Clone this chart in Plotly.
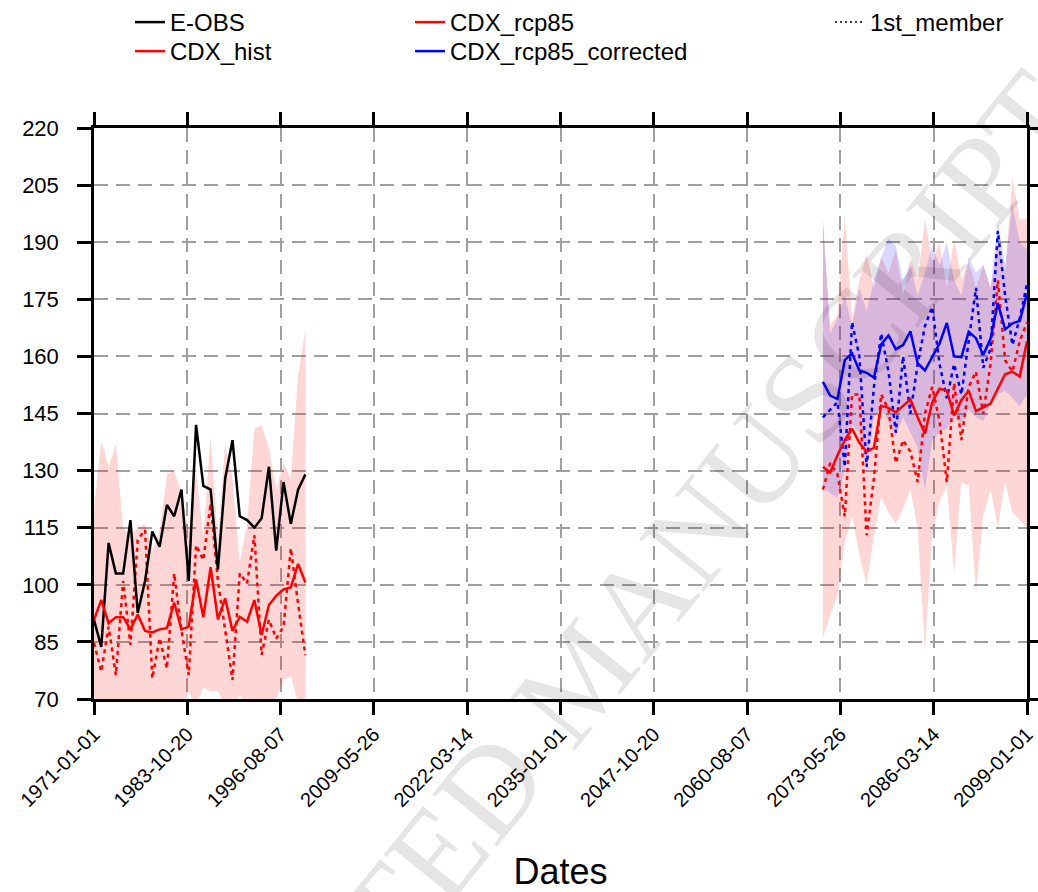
import plotly.graph_objects as go

# ---------------- data ----------------
hist_years = [1971, 1972, 1973, 1974, 1975, 1976, 1977, 1978, 1979, 1980,
              1981, 1982, 1983, 1984, 1985, 1986, 1987, 1988, 1989, 1990,
              1991, 1992, 1993, 1994, 1995, 1996, 1997, 1998, 1999, 2000]
fut_years = [2071, 2072, 2073, 2074, 2075, 2076, 2077, 2078, 2079, 2080,
             2081, 2082, 2083, 2084, 2085, 2086, 2087, 2088, 2089, 2090,
             2091, 2092, 2093, 2094, 2095, 2096, 2097, 2098, 2099]

eobs = [90.8, 83.7, 111, 103, 103, 117, 92.6, 101, 114, 110,
        121, 118, 125, 101, 142, 126, 125, 104, 128, 138,
        118, 117, 115, 117.5, 131, 109, 127, 116, 125, 129]
cdx_hist = [90.8, 96.0, 89.9, 91.5, 91.5, 88.3, 92.2, 87.9, 87.5, 88.3,
            88.6, 95.3, 88.3, 89.0, 101.4, 91.5, 104.6, 90.9, 96.4, 87.9,
            91.6, 90.3, 96.0, 86.8, 94.7, 97.1, 98.8, 99.3, 105.5, 100.6]
cdx_hist_member = [84.7, 77.2, 89, 76.3, 101, 84.2, 111.8, 114.4, 75.4, 86,
                   78, 103, 88, 76.3, 110.4, 106.5, 121.4, 101, 88, 75,
                   103, 100.4, 113, 81.6, 90.8, 85.9, 89, 109.6, 95, 81.5]
cdx_hist_max = [120, 138, 131, 137, 115, 113, 115, 116, 109, 114,
                129, 130, 124, 114, 130, 113, 139, 112, 137, 128,
                106, 116, 141, 142, 136, 125, 132, 128, 155, 167]
cdx_hist_min = [67, 67, 67, 67, 67, 67, 67, 67, 67, 67,
                67, 67, 67, 72, 68, 73, 72, 72, 68, 68,
                71, 68, 68, 68, 68, 70, 75, 76, 69, 67]

rcp85 = [131, 129.5, 134, 138, 141, 137.3, 135, 136, 147, 146.5,
         145.3, 147, 148.7, 144, 139.7, 148, 151.5, 151, 144.5, 148.5,
         151, 145.6, 146.5, 147.6, 151.5, 155.3, 156, 154.7, 164]
rcp85_member = [125, 132, 129, 118, 150, 150, 113, 128, 150, 146,
                132, 138, 135, 127, 145, 152, 143, 127, 153, 138,
                152, 156, 145, 158, 180, 159, 156, 164, 169]
rcp85_max = [196, 168, 171, 197, 170, 180, 187, 178, 186, 182,
             188, 176, 186, 180, 196, 185, 190, 178, 191, 180,
             185, 178, 184, 178, 190, 182, 207, 196, 196]
rcp85_min = [86, 92, 97, 111, 118, 108, 100, 113, 123, 119,
             116, 120, 125, 115, 83, 113, 122, 126, 103, 127,
             126, 98, 118, 125, 115, 127, 119, 117, 115]

corr = [153.3, 149.7, 148.8, 159, 160.8, 156.3, 155.7, 154.4, 163.2, 165.5,
        161.9, 163, 166.6, 158.2, 156.3, 160, 163.4, 168.8, 160, 159.8,
        166.5, 164.8, 160.4, 164.7, 174, 167.1, 168.7, 169.3, 176.5]
corr_member = [144, 146, 148, 131, 169, 160, 131, 152, 166, 156,
               140, 160, 145, 158, 168, 173, 158, 149, 158, 150,
               164, 178, 157, 162, 193, 176, 163, 170, 179]
corr_max = [196, 166, 170, 176, 168, 178, 172, 180, 186, 191,
            189, 180, 184, 176, 182, 189, 184, 190, 180, 176,
            186, 182, 184, 178, 195, 184, 200, 190, 188]
corr_min = [126, 124, 123, 130, 142, 140, 130, 144, 146, 143,
            139, 144, 140, 136, 125, 138, 140, 141, 144, 142,
            146, 144, 143, 148, 150, 151, 149, 147, 150]

x_ticks = ["1971-01-01", "1983-10-20", "1996-08-07", "2009-05-26", "2022-03-14",
           "2035-01-01", "2047-10-20", "2060-08-07", "2073-05-26", "2086-03-14",
           "2099-01-01"]
y_ticks = [70, 85, 100, 115, 130, 145, 160, 175, 190, 205, 220]

hist_dates = [f"{y}-01-01" for y in hist_years]
fut_dates = [f"{y}-01-01" for y in fut_years]

PINK = "rgba(255,0,0,0.16)"
BLUE = "rgba(0,0,255,0.15)"
DOT = "4px,4px"
LW = 2.5

fig = go.Figure()

def band(x, hi, lo, color):
    fig.add_trace(go.Scatter(x=x, y=hi, mode="lines", line=dict(width=0),
                             showlegend=False, hoverinfo="skip"))
    fig.add_trace(go.Scatter(x=x, y=lo, mode="lines", line=dict(width=0),
                             fill="tonexty", fillcolor=color,
                             showlegend=False, hoverinfo="skip"))

band(hist_dates, cdx_hist_max, cdx_hist_min, PINK)
band(fut_dates, rcp85_max, rcp85_min, PINK)
band(fut_dates, corr_max, corr_min, BLUE)

# 1st-member dotted lines
fig.add_trace(go.Scatter(x=hist_dates, y=cdx_hist_member, mode="lines",
                         line=dict(color="red", width=LW, dash=DOT), showlegend=False))
fig.add_trace(go.Scatter(x=fut_dates, y=rcp85_member, mode="lines",
                         line=dict(color="red", width=LW, dash=DOT), showlegend=False))
fig.add_trace(go.Scatter(x=fut_dates, y=corr_member, mode="lines",
                         line=dict(color="blue", width=LW, dash=DOT), showlegend=False))

# main lines (each legend entry in its own small legend box, laid out in a grid)
fig.add_trace(go.Scatter(x=hist_dates, y=eobs, mode="lines", name="E-OBS",
                         line=dict(color="black", width=LW), legend="legend"))
fig.add_trace(go.Scatter(x=hist_dates, y=cdx_hist, mode="lines", name="CDX_hist",
                         line=dict(color="red", width=LW), legend="legend4"))
fig.add_trace(go.Scatter(x=fut_dates, y=rcp85, mode="lines", name="CDX_rcp85",
                         line=dict(color="red", width=LW), legend="legend2"))
fig.add_trace(go.Scatter(x=fut_dates, y=corr, mode="lines", name="CDX_rcp85_corrected",
                         line=dict(color="blue", width=LW), legend="legend5"))
fig.add_trace(go.Scatter(x=[None], y=[None], mode="lines", name="1st_member",
                         line=dict(color="black", width=1.5, dash="2px,3px"), legend="legend3"))

W, H = 1038, 892
legend_common = dict(xref="container", yref="container", xanchor="left", yanchor="top",
                     font=dict(size=24, color="black"), bgcolor="rgba(0,0,0,0)",
                     traceorder="normal", orientation="v", itemwidth=30)
ROW1 = 1.0
ROW2 = 1 - 29 / H

fig.update_layout(
    width=W, height=H,
    margin=dict(l=94, r=11, t=128, b=193, autoexpand=False),
    paper_bgcolor="white", plot_bgcolor="white",
    font=dict(family="Liberation Sans, Arial, sans-serif", color="black"),
    legend=dict(x=130 / W, y=ROW1, **legend_common),
    legend4=dict(x=130 / W, y=ROW2, **legend_common),
    legend2=dict(x=410 / W, y=ROW1, **legend_common),
    legend5=dict(x=410 / W, y=ROW2, **legend_common),
    legend3=dict(x=830 / W, y=ROW1, **legend_common),
    xaxis=dict(type="date", range=["1971-01-01", "2099-01-01"],
               tickmode="array", tickvals=x_ticks, ticktext=x_ticks,
               tickangle=-45, ticks="outside", ticklen=13, tickwidth=2.5,
               tickcolor="black", tickfont=dict(size=20),
               showline=True, linewidth=2.5, linecolor="black", mirror="allticks",
               showgrid=True, gridcolor="#A0A0A0", gridwidth=1.5, griddash="14px,8px",
               zeroline=False, automargin=False,
               title=dict(text="Dates", font=dict(size=36), standoff=55)),
    yaxis=dict(range=[70, 220], tickmode="array", tickvals=y_ticks,
               ticks="outside", ticklen=14, tickwidth=2.5, tickcolor="black",
               tickfont=dict(size=22), ticklabelstandoff=14,
               showline=True, linewidth=2.5, linecolor="black", mirror="allticks",
               showgrid=True, gridcolor="#A0A0A0", gridwidth=1.5, griddash="14px,8px",
               zeroline=False, automargin=False),
    annotations=[dict(text="ACCEPTED MANUSCRIPT", xref="paper", yref="paper",
                      x=(580 - 94) / 933, y=(699 - 676) / 571,
                      xanchor="center", yanchor="middle", textangle=-51,
                      showarrow=False,
                      font=dict(family="Liberation Serif, DejaVu Serif, serif",
                                size=127, color="rgba(0,0,0,0.10)"))],
)

fig.write_html("out.html", config={"displayModeBar": False},
               post_script="document.body.style.margin='0px';")
